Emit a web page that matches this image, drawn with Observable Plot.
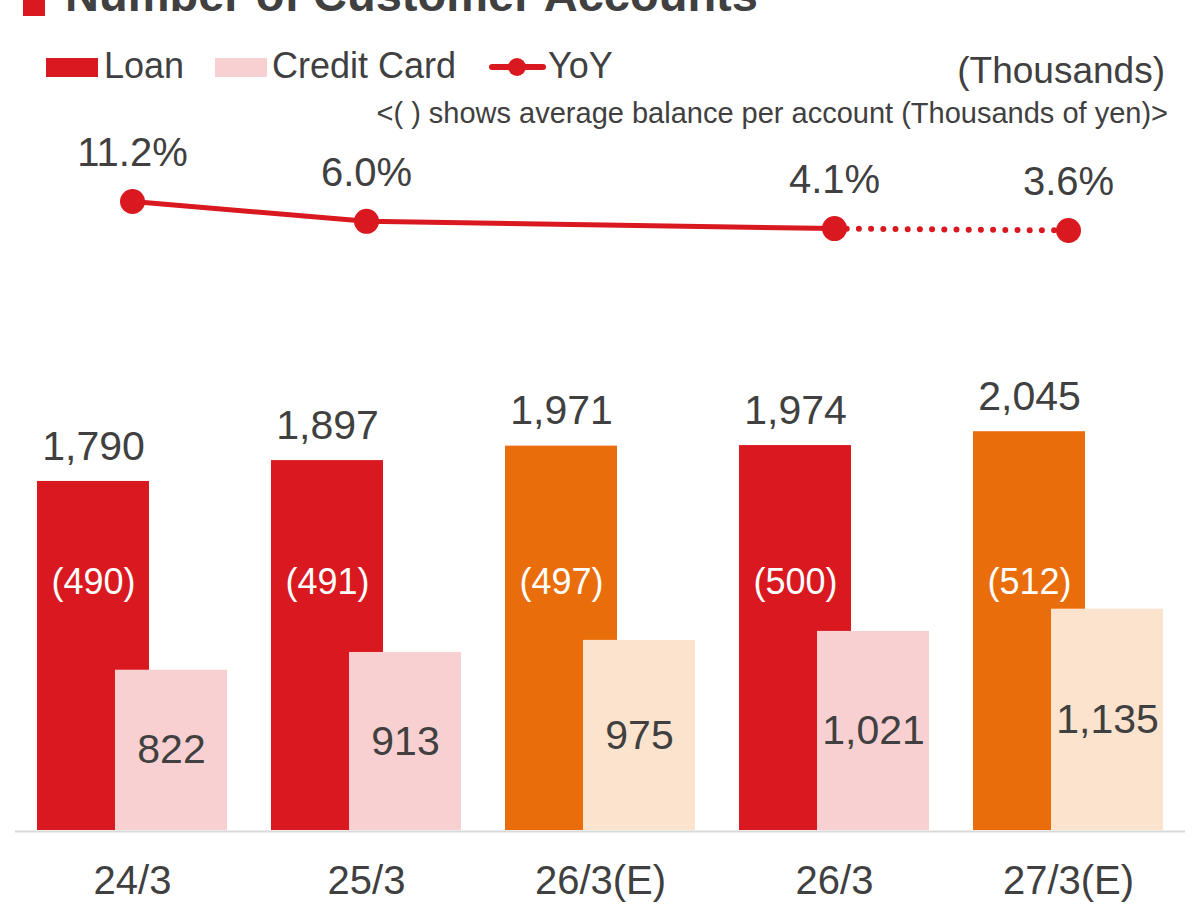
<!DOCTYPE html>
<html>
<head>
<meta charset="utf-8">
<script src="https://cdn.jsdelivr.net/npm/d3@7"></script>
<script src="https://cdn.jsdelivr.net/npm/@observablehq/plot@0.6"></script>
<style>
  html, body { margin: 0; padding: 0; background: #fff; }
  body { width: 1195px; height: 904px; overflow: hidden; font-family: "Liberation Sans", Arial, sans-serif; color: #404040; }
  #header { position: relative; width: 1195px; height: 125px; overflow: visible; z-index: 1; }
  #header .t { position: absolute; line-height: 1; white-space: nowrap; }
  #header .sw { position: absolute; }
  #top, #bottom { display: block; }
  svg { display: block; }
</style>
</head>
<body>
<div id="header">
  <div class="sw" style="left:23px; top:-6px; width:22px; height:22px; background:#D9181F;"></div>
  <div class="t" style="left:65px; top:-29px; font-size:47px; font-weight:bold;">Number of Customer Accounts</div>

  <div class="sw" style="left:46px; top:58px; width:52px; height:19px; background:#D9181F;"></div>
  <div class="t" style="left:104px; top:47.5px; font-size:36px;">Loan</div>
  <div class="sw" style="left:215px; top:58px; width:52px; height:19px; background:#F9D0D1;"></div>
  <div class="t" style="left:272px; top:47.5px; font-size:36px;">Credit Card</div>
  <div class="sw" style="left:489px; top:64px; width:57px; height:6px; background:#D9181F; border-radius:3px;"></div>
  <div class="sw" style="left:508px; top:58px; width:18px; height:18px; background:#D9181F; border-radius:50%;"></div>
  <div class="t" style="left:548px; top:47.5px; font-size:36px;">YoY</div>

  <div class="t" style="right:30px; top:52px; font-size:37px;">(Thousands)</div>
  <div class="t" style="right:27px; top:98.5px; font-size:29px;">&lt;( ) shows average balance per account (Thousands of yen)&gt;</div>
</div>
<div id="top"></div>
<div id="bottom"></div>
<script>
const categories = ["24/3", "25/3", "26/3(E)", "26/3", "27/3(E)"];
const loan = [1790, 1897, 1971, 1974, 2045];
const creditCard = [822, 913, 975, 1021, 1135];
const avgBalance = [490, 491, 497, 500, 512];
const isEstimate = [false, false, true, false, true];

const yoyCategories = ["24/3", "25/3", "26/3", "27/3(E)"];
const yoy = [11.2, 6.0, 4.1, 3.6];

const RED = "#D9181F";
const TEXT = "#404040";
const FONT = "'Liberation Sans', Arial, sans-serif";

const rows = categories.map((c, i) => ({
  cat: c, loan: loan[i], credit: creditCard[i], avg: avgBalance[i], est: isEstimate[i]
}));
const yoyRows = yoyCategories.map((c, i) => ({cat: c, yoy: yoy[i]}));
const fmt = d3.format(",");

const topPlot = Plot.plot({
  width: 1195,
  height: 175,
  marginTop: 0, marginBottom: 0, marginLeft: 15, marginRight: 10,
  style: {fontFamily: FONT, background: "transparent"},
  x: {type: "point", domain: categories, padding: 0.5, axis: null},
  y: {domain: [0, 11.2], range: [118.7, 76], axis: null},
  marks: [
    Plot.line(yoyRows.slice(0, 3), {x: "cat", y: "yoy", stroke: RED, strokeWidth: 5}),
    Plot.line(yoyRows.slice(2), {x: "cat", y: "yoy", stroke: RED, strokeWidth: 6, strokeDasharray: "0 12.2", strokeLinecap: "round"}),
    Plot.dot(yoyRows, {x: "cat", y: "yoy", r: 12.5, fill: RED, stroke: null}),
    Plot.text(yoyRows, {x: "cat", y: "yoy", text: d => d.yoy.toFixed(1) + "%", dy: -48, fontSize: 40, fill: TEXT})
  ]
});
document.getElementById("top").append(topPlot);

const bottomPlot = Plot.plot({
  width: 1195,
  height: 604,
  marginTop: 0, marginBottom: 74, marginLeft: 15, marginRight: 10,
  style: {fontFamily: FONT, background: "transparent", color: TEXT},
  x: {type: "band", domain: categories, padding: 0, axis: null, label: null},
  y: {domain: [0, 2600], range: [530, 23], axis: null},
  color: {
    domain: ["Loan", "Credit Card", "Loan (E)", "Credit Card (E)"],
    range: [RED, "#F9D0D1", "#E96D0A", "#FCE3CD"]
  },
  marks: [
    Plot.barY(rows, {x: "cat", y: "loan", fill: d => d.est ? "Loan (E)" : "Loan", insetLeft: 22, insetRight: 100}),
    Plot.barY(rows, {x: "cat", y: "credit", fill: d => d.est ? "Credit Card (E)" : "Credit Card", insetLeft: 100, insetRight: 22}),
    Plot.ruleY([0], {stroke: "#D9D9D9", strokeWidth: 2, dy: 1}),
    Plot.text(rows, {x: "cat", y: "loan", text: d => fmt(d.loan), dx: -39, dy: -35, fontSize: 41, fill: TEXT}),
    Plot.text(rows, {x: "cat", text: d => `(${d.avg})`, frameAnchor: "top", lineAnchor: "middle", dy: 282, dx: -39, fontSize: 36, fill: "white"}),
    Plot.text(rows, {x: "cat", y: d => d.credit / 2, text: d => fmt(d.credit), dx: 39, fontSize: 41, fill: TEXT}),
    Plot.axisX({tickSize: 0, tickPadding: 35, fontSize: 40, fill: TEXT, color: TEXT, label: null})
  ]
});
document.getElementById("bottom").append(bottomPlot);
</script>
</body>
</html>
